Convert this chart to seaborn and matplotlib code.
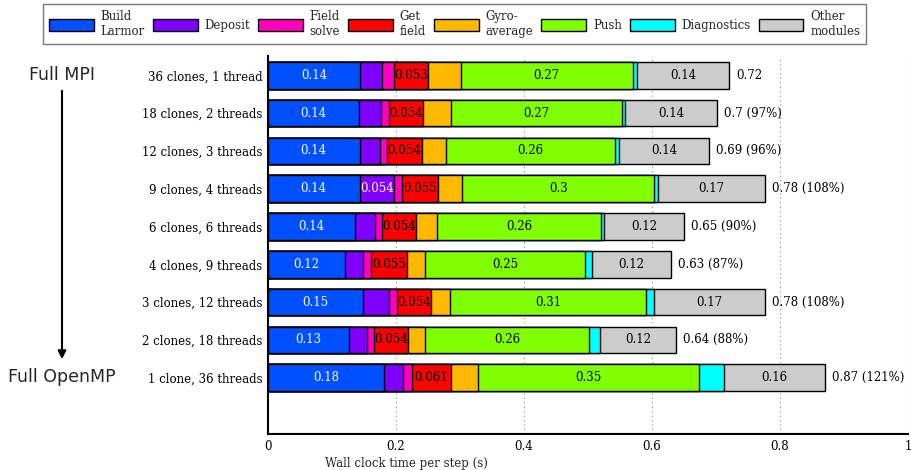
import numpy as np
import pandas as pd
import matplotlib
matplotlib.use("Agg")
import matplotlib.pyplot as plt
from matplotlib.patches import Patch, FancyArrowPatch
import seaborn as sns

# MPI clone / OpenMP thread configurations (36 cores in total)
configs = ["36 clones, 1 thread", "18 clones, 2 threads", "12 clones, 3 threads",
           "9 clones, 4 threads", "6 clones, 6 threads", "4 clones, 9 threads",
           "3 clones, 12 threads", "2 clones, 18 threads", "1 clone, 36 threads"]

modules = ["Build\nLarmor", "Deposit", "Field\nsolve", "Get\nfield",
           "Gyro-\naverage", "Push", "Diagnostics", "Other\nmodules"]
colors = ["#0050ff", "#8000ff", "#ff00bb", "#ff0000",
          "#ffb900", "#80ff00", "#00ffff", "#cccccc"]
text_colors = ["white", "white", "black", "black",
               "black", "black", "black", "black"]

x_ticks = [0, 0.2, 0.4, 0.6, 0.8, 1.0]
x_tick_labels = ["0", "0.2", "0.4", "0.6", "0.8", "1"]

# Wall clock time per step (s) spent in each module
build_larmor = [0.144, 0.142, 0.143, 0.143, 0.136, 0.121, 0.148, 0.126, 0.181]
deposit = [0.034, 0.034, 0.032, 0.054, 0.031, 0.028, 0.041, 0.028, 0.030]
field_solve = [0.019, 0.0125, 0.011, 0.013, 0.011, 0.0125, 0.012, 0.011, 0.014]
get_field = [0.053, 0.054, 0.054, 0.055, 0.054, 0.055, 0.054, 0.054, 0.061]
gyro_average = [0.051, 0.044, 0.0375, 0.0385, 0.032, 0.029, 0.030, 0.027, 0.042]
push = [0.269, 0.267, 0.264, 0.300, 0.256, 0.250, 0.306, 0.256, 0.346]
diagnostics = [0.0073, 0.004, 0.007, 0.0056, 0.0056, 0.0105, 0.0125, 0.017, 0.038]
other_modules = [0.143, 0.144, 0.140, 0.168, 0.124, 0.124, 0.173, 0.118, 0.159]

times = np.array([build_larmor, deposit, field_solve, get_field,
                  gyro_average, push, diagnostics, other_modules])
cumulative = np.cumsum(times, axis=0)
totals = cumulative[-1]

sns.set_theme(style="white")
plt.rcParams["font.family"] = ["DejaVu Serif"]
plt.rcParams["font.size"] = 8.5
SERIF = "DejaVu Serif"

fig = plt.figure(figsize=(9.12, 4.70), dpi=100)
ax = fig.add_axes([268 / 912, 1 - 434 / 470, 640 / 912, (434 - 56) / 470])

# x grid behind the bars
for gx in x_ticks[1:]:
    ax.axvline(gx, color="#888888", lw=0.8, ls=(0, (1, 3)), zorder=0)

# stacked bars: overlay cumulative sums, widest first
for i in range(len(modules) - 1, -1, -1):
    df = pd.DataFrame({"config": configs, "time": cumulative[i]})
    sns.barplot(data=df, x="time", y="config", orient="h", order=configs,
                color=colors[i], saturation=1, width=0.70,
                edgecolor="black", linewidth=1.0, ax=ax, zorder=2)

# segment values
for i in range(len(modules)):
    for r in range(len(configs)):
        v = times[i, r]
        if v > 0.052:
            xc = cumulative[i, r] - v / 2
            ax.text(xc, r, f"{v:.2g}", ha="center", va="center", family=SERIF,
                    color=text_colors[i], fontsize=8.5, zorder=5)

# totals, relative to the pure-MPI run
ref = totals[0]
for r in range(len(configs)):
    if r == 0:
        s = f"{totals[r]:.2g}"
    else:
        s = f"{totals[r]:.2g} ({totals[r] / ref * 100:.0f}%)"
    ax.annotate(s, (totals[r], r), xytext=(5, 0), textcoords="offset points",
                ha="left", va="center", fontsize=8.5, family=SERIF, color="black")

ax.set_xlim(0, 1)
ax.set_ylim(9.49, -0.51)
ax.set_xticks(x_ticks)
ax.set_xticklabels(x_tick_labels, family=SERIF, fontsize=8.5)
ax.set_yticks(range(len(configs)))
ax.set_yticklabels(configs, family=SERIF, fontsize=8.5)
ax.tick_params(axis="both", length=0, colors="black")
ax.tick_params(axis="y", pad=4)
ax.tick_params(axis="x", pad=4)
ax.set_ylabel("")
ax.set_xlabel("Wall clock time per step (s)", fontsize=8.5, family=SERIF)
ax.xaxis.set_label_coords(0.217, -0.062)
for side in ["top", "right"]:
    ax.spines[side].set_visible(False)
for side in ["left", "bottom"]:
    ax.spines[side].set_color("black")
    ax.spines[side].set_linewidth(1.5)
ax.set_facecolor("white")

# MPI -> OpenMP arrow on the left
fig.text(62 / 912, 1 - 75 / 470, "Full MPI", family="DejaVu Sans", fontsize=12.5,
         ha="center", va="center")
fig.text(62 / 912, 1 - 377 / 470, "Full OpenMP", family="DejaVu Sans", fontsize=12.5,
         ha="center", va="center")
fig.add_artist(FancyArrowPatch(
    (62 / 912, 1 - 88 / 470), (62 / 912, 1 - 362 / 470),
    transform=fig.transFigure, arrowstyle="-|>", mutation_scale=12,
    color="black", lw=1.5))

handles = [Patch(facecolor=c, edgecolor="black", linewidth=1.0) for c in colors]
leg = fig.legend(handles, modules, loc="upper center", bbox_to_anchor=(0.4985, 0.9915),
                 ncol=8, prop={"family": SERIF, "size": 8.5},
                 handlelength=3.8, handleheight=1.2,
                 handletextpad=0.6, columnspacing=0.65, borderpad=0.5,
                 borderaxespad=0, fancybox=False, frameon=True, labelspacing=0.2)
leg.get_frame().set_edgecolor("#555555")
leg.get_frame().set_linewidth(1.0)

fig.savefig("out.png", dpi=100)
